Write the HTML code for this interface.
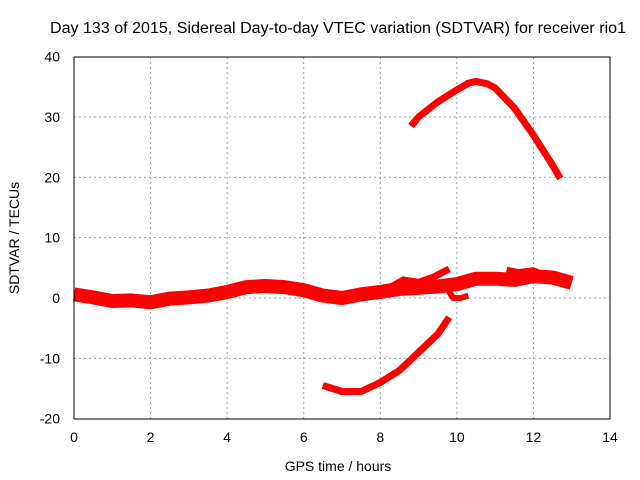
<!DOCTYPE html>
<html><head><meta charset="utf-8"><style>
body{margin:0;background:#fff;}
svg{display:block;font-family:"Liberation Sans",sans-serif;}
</style></head><body>
<svg id="chart" width="640" height="480">
<text x="338" y="33" font-size="15.5" text-anchor="middle" textLength="576" lengthAdjust="spacingAndGlyphs">Day 133 of 2015, Sidereal Day-to-day VTEC variation (SDTVAR) for receiver rio1</text>
<text x="338" y="471" font-size="14" text-anchor="middle">GPS time / hours</text>
<text transform="translate(19,238) rotate(-90)" font-size="14" text-anchor="middle">SDTVAR / TECUs</text>
<g id="grid"></g><g id="series"></g>
<rect x="74" y="57" width="536" height="362" fill="none" stroke="#000" stroke-width="1"/>
<g id="ticks"></g>
</svg>
<script>
const xTicks=[0,2,4,6,8,10,12,14];
const yTicks=[-20,-10,0,10,20,30,40];
const mainBandX=[0,0.5,1,1.5,2,2.5,3,3.5,4,4.5,5,5.5,6,6.5,7,7.5,8,8.5,9,9.5,10,10.5,11,11.5,12,12.5,13];
const mainBandY=[0.6,0.1,-0.5,-0.4,-0.7,-0.1,0.1,0.4,1,1.8,2,1.8,1.3,0.4,0,0.6,1,1.5,1.7,1.9,2.3,3.2,3.2,3,3.6,3.4,2.5];
const strandX=[8.2,8.6,9,9.4,9.8];
const strandY=[1.5,3,2.6,3.5,4.8];
const dipX=[9.7,9.9,10.1,10.3];
const dipY=[2,0,0,0.4];
const bumpX=[11.3,11.6,12,12.3];
const bumpY=[4.7,4.3,4.6,3.8];
const upperX=[8.8,9,9.5,10,10.3,10.5,10.8,11,11.5,12,12.5,12.7];
const upperY=[28.5,30,32.5,34.5,35.6,35.9,35.5,34.8,31.5,27,22,19.8];
const lowerX=[6.5,7,7.5,8,8.5,9,9.5,9.8];
const lowerY=[-14.5,-15.5,-15.5,-14,-12,-9,-6,-3.2];
const X=v=>74+v*536/14, Y=v=>298-v*362/60;
const NS="http://www.w3.org/2000/svg";
const grid=document.getElementById('grid'),ticks=document.getElementById('ticks'),ser=document.getElementById('series');
function mk(tag,at,par){const e=document.createElementNS(NS,tag);for(const k in at)e.setAttribute(k,at[k]);par.appendChild(e);return e;}
xTicks.forEach(t=>{
 if(t>0&&t<14){const g=mk('line',{x1:X(t),x2:X(t),y1:57,y2:419,stroke:'#a0a0a0','stroke-dasharray':'2,3'},grid);
 
 }
 const l=mk('text',{x:X(t),y:442,'font-size':14,'text-anchor':'middle'},ticks);l.textContent=t;
 
 
});
yTicks.forEach(t=>{
 if(t>-20&&t<40){const g=mk('line',{x1:74,x2:610,y1:Y(t),y2:Y(t),stroke:'#a0a0a0','stroke-dasharray':'2,3'},grid);
 
 }
 const l=mk('text',{x:60,y:Y(t)+5,'font-size':14,'text-anchor':'end'},ticks);l.textContent=t;
 
 
});
function line(xs,ys,w,name){
 const p=mk('polyline',{points:xs.map((x,i)=>X(x)+','+Y(ys[i])).join(' '),fill:'none',stroke:'#f00','stroke-width':w,'stroke-linejoin':'round'},ser);
 
 
}
line(mainBandX,mainBandY,14,'sdtvar-main-band');
line(strandX,strandY,7,'sdtvar-upper-strand');
line(dipX,dipY,6,'sdtvar-dip-strand');
line(bumpX,bumpY,6,'sdtvar-bump-strand');
line(upperX,upperY,7,'sdtvar-upper-arc');
line(lowerX,lowerY,7,'sdtvar-lower-arc');
</script>
</body></html>
